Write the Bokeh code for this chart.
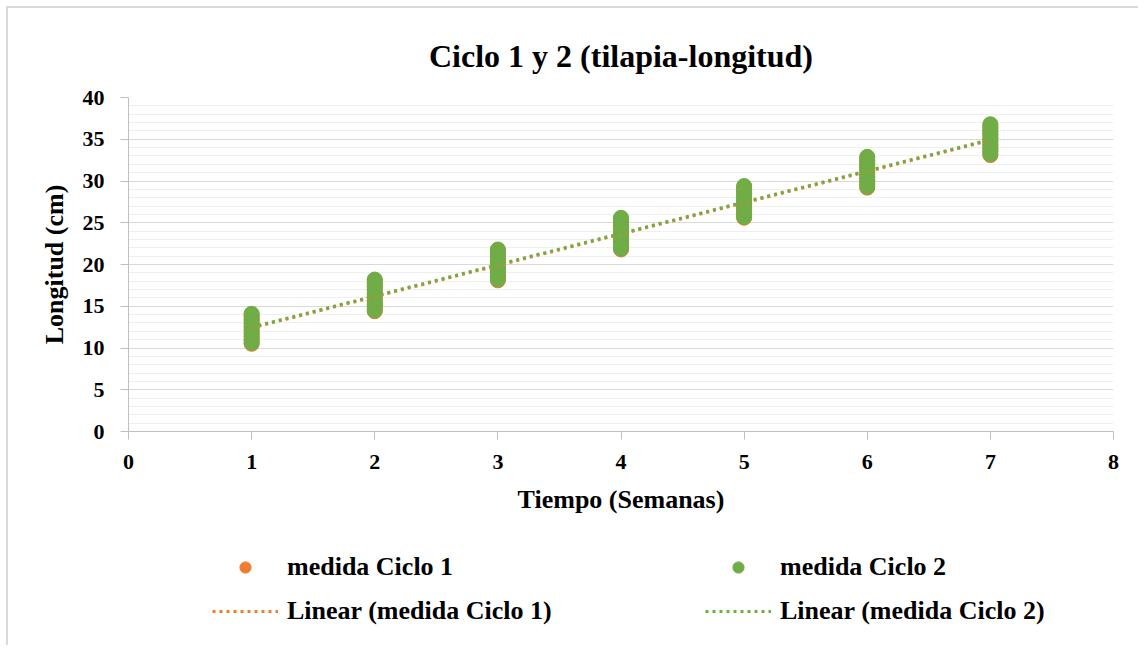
import numpy as np
from bokeh.plotting import figure
from bokeh.layouts import column
from bokeh.models import Legend, LegendItem, FixedTicker, Range1d
from bokeh.embed import file_html
from bokeh.resources import INLINE

weeks = [1, 2, 3, 4, 5, 6, 7]
ciclo1 = [
    [10.5, 10.9, 11.3, 11.7, 12.1, 12.5, 12.9, 13.3, 13.7, 14.0],
    [14.4, 14.8, 15.2, 15.6, 16.0, 16.4, 16.9, 17.3, 17.7, 18.1],
    [18.1, 18.5, 18.9, 19.3, 19.7, 20.1, 20.5, 20.9, 21.3, 21.7],
    [21.8, 22.2, 22.6, 23.0, 23.4, 23.8, 24.3, 24.7, 25.1, 25.5],
    [25.6, 26.0, 26.4, 26.8, 27.2, 27.6, 28.1, 28.5, 28.9, 29.3],
    [29.2, 29.6, 30.0, 30.4, 30.8, 31.2, 31.6, 32.0, 32.4, 32.8],
    [33.1, 33.5, 33.9, 34.3, 34.7, 35.1, 35.5, 35.9, 36.3, 36.7],
]
ciclo2 = [
    [10.6, 11.0, 11.4, 11.8, 12.2, 12.6, 13.0, 13.4, 13.8, 14.1],
    [14.5, 14.9, 15.3, 15.7, 16.1, 16.5, 17.0, 17.4, 17.8, 18.2],
    [18.2, 18.6, 19.0, 19.4, 19.8, 20.2, 20.6, 21.0, 21.4, 21.8],
    [21.9, 22.3, 22.7, 23.1, 23.5, 23.9, 24.4, 24.8, 25.2, 25.6],
    [25.7, 26.1, 26.5, 26.9, 27.3, 27.7, 28.2, 28.6, 29.0, 29.4],
    [29.3, 29.7, 30.1, 30.5, 30.9, 31.3, 31.7, 32.1, 32.5, 32.9],
    [33.2, 33.6, 34.0, 34.4, 34.8, 35.2, 35.6, 36.0, 36.4, 36.8],
]
x_ticks = [0, 1, 2, 3, 4, 5, 6, 7, 8]
y_ticks = [0, 5, 10, 15, 20, 25, 30, 35, 40]
legend_labels = ["medida Ciclo 1", "medida Ciclo 2",
                 "Linear (medida Ciclo 1)", "Linear (medida Ciclo 2)"]

ORANGE = "#ED7D31"
GREEN = "#70AD47"
FONT = "Liberation Serif"
DASH = "3 4"

def flatten(groups):
    xs, ys = [], []
    for w, vals in zip(weeks, groups):
        for v in vals:
            xs.append(w)
            ys.append(v)
    return np.array(xs, float), np.array(ys, float)

x1, y1 = flatten(ciclo1)
x2, y2 = flatten(ciclo2)
xl = np.array([1.0, 7.0])
fit1 = np.polyval(np.polyfit(x1, y1, 1), xl)
fit2 = np.polyval(np.polyfit(x2, y2, 1), xl)

p = figure(width=1130, height=517, output_backend="svg", toolbar_location=None,
           x_range=Range1d(0, 8), y_range=Range1d(0, 40),
           min_border_left=120, min_border_right=25, min_border_top=89,
           min_border_bottom=94)
p.outline_line_color = None
p.border_fill_color = "white"
p.background_fill_color = "white"

p.title.text = "Ciclo 1 y 2 (tilapia-longitud)"
p.title.align = "center"
p.title.vertical_align = "top"
p.title.text_font = FONT
p.title.text_font_size = "32px"
p.title.text_font_style = "bold"
p.title.text_color = "#000000"
p.title.offset = 0
p.title.standoff = 44

p.scatter(x1, y1, size=15, color=ORANGE)
p.scatter(x2, y2, size=15, color=GREEN)
p.line(xl, fit1, line_color=ORANGE, line_width=3, line_dash=DASH)
p.line(xl, fit2, line_color=GREEN, line_width=3, line_dash=DASH)

for ax in (p.xaxis[0], p.yaxis[0]):
    ax.axis_line_color = "#BFBFBF"
    ax.major_tick_line_color = "#BFBFBF"
    ax.minor_tick_line_color = None
    ax.major_tick_in = 0
    ax.major_tick_out = 8
    ax.major_label_text_font = FONT
    ax.major_label_text_font_size = "22px"
    ax.major_label_text_font_style = "bold"
    ax.major_label_text_color = "#000000"
    ax.axis_label_text_font = FONT
    ax.axis_label_text_font_size = "26px"
    ax.axis_label_text_font_style = "bold"
    ax.axis_label_text_color = "#000000"

p.xaxis.ticker = FixedTicker(ticks=x_ticks)
p.yaxis.ticker = FixedTicker(ticks=y_ticks, minor_ticks=list(range(0, 41)))
p.xaxis.axis_label = "Tiempo (Semanas)"
p.yaxis.axis_label = "Longitud (cm)"
p.xaxis.major_label_standoff = 15
p.yaxis.major_label_standoff = 16
p.xaxis.axis_label_standoff = 13
p.yaxis.axis_label_standoff = 11

p.xgrid.grid_line_color = None
p.ygrid.grid_line_color = "#D9D9D9"
p.ygrid.minor_grid_line_color = "#EFEFEF"

# legend panel below the chart (its frame aligns with the chart frame)
q = figure(width=1130, height=120, output_backend="svg", toolbar_location=None,
           x_range=Range1d(-20, -19), y_range=Range1d(-20, -19),
           x_axis_type=None, y_axis_type=None, min_border=0)
q.outline_line_color = None
q.grid.visible = False
q.border_fill_color = "white"
q.background_fill_color = "white"
e1 = q.scatter(x1, y1, size=15, color=ORANGE)
e2 = q.scatter(x2, y2, size=15, color=GREEN)
e3 = q.line(xl, fit1, line_color=ORANGE, line_width=3, line_dash=DASH)
e4 = q.line(xl, fit2, line_color=GREEN, line_width=3, line_dash=DASH)

legend = Legend(items=[LegendItem(label=lab, renderers=[r])
                       for lab, r in zip(legend_labels, [e1, e2, e3, e4])],
                orientation="horizontal", ncols=2)
legend.location = (84, 19)
legend.border_line_color = None
legend.background_fill_alpha = 0
legend.glyph_width = 66
legend.glyph_height = 28
legend.label_height = 28
legend.label_width = 404
legend.label_standoff = 9
legend.spacing = 14
legend.padding = 0
legend.margin = 0
legend.label_text_font = FONT
legend.label_text_font_size = "26px"
legend.label_text_font_style = "bold"
legend.label_text_color = "#000000"
q.add_layout(legend, "center")

layout = column(p, q, spacing=0, margin=(6, 0, 0, 6),
                styles={"border-top": "2px solid #D9D9D9",
                        "border-left": "2px solid #D9D9D9"})

open("out.html", "w").write(file_html(layout, INLINE))
